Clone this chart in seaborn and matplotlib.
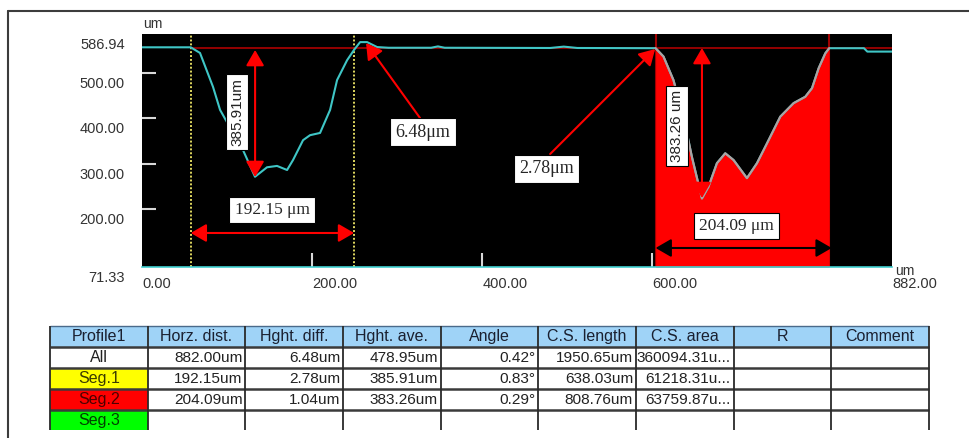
import matplotlib
matplotlib.use("Agg")
import matplotlib.pyplot as plt
import matplotlib.transforms as mtransforms
from matplotlib.lines import Line2D
from matplotlib.patches import Rectangle
import seaborn as sns
import numpy as np

# ---- profile data (um) ----
dist = np.array([0, 57.3, 68.2, 83.5, 91.8, 107.1, 118.8, 132.9, 147, 158.8, 170.6, 177.6,
                 189.4, 197.6, 209.4, 221.2, 229.4, 241.2, 249.45, 256.5, 264.7, 276.5,
                 290, 340, 348, 356, 480, 496, 512, 604.0, 613.3, 625, 636.8, 646.7, 658.5,
                 666.2, 676.1, 685.9, 695.7, 711.4, 723.2, 735, 750.6, 766.3, 780, 787.9,
                 795.7, 803.5, 808.1, 849, 853, 882])
height = np.array([557.5, 557.5, 545, 470, 419, 368, 330, 271, 292, 295, 286, 308,
                   352, 363, 368, 419, 485, 529, 552, 569, 569, 558,
                   556.5, 556.5, 559.5, 556.5, 556, 559, 556, 555.5, 537, 485, 404, 315, 223,
                   249, 301, 323, 308, 268, 301, 345, 404, 434, 448, 467,
                   511, 544, 555.5, 555.5, 548, 548])

x_max = 882.00
y_min, y_max = 71.33, 586.94
seg1 = (57.3, 249.45)
seg2 = (604.0, 808.1)
ref_level = 555.5

# ---- table data ----
columns = ["Profile1", "Horz. dist.", "Hght. diff.", "Hght. ave.", "Angle",
           "C.S. length", "C.S. area", "R", "Comment"]
row_names = ["All", "Seg.1", "Seg.2", "Seg.3"]
row_colors = ["white", "#ffff00", "#ff0000", "#00ff00"]
row_text_colors = ["#222222", "#3a3a00", "#4a0000", "#004000"]
horz_dist = ["882.00um", "192.15um", "204.09um", ""]
hght_diff = ["6.48um", "2.78um", "1.04um", ""]
hght_ave = ["478.95um", "385.91um", "383.26um", ""]
angle = ["0.42°", "0.83°", "0.29°", ""]
cs_length = ["1950.65um", "638.03um", "808.76um", ""]
cs_area = ["360094.31u...", "61218.31u...", "63759.87u...", ""]

sns.set_style("white")
plt.rcParams['font.family'] = ['Liberation Sans', 'DejaVu Sans']

W, H = 969, 438
fig = plt.figure(figsize=(W / 100, H / 100), dpi=100)


def fbox(l, t, r, b):
    return [l / W, 1 - b / H, (r - l) / W, (b - t) / H]


ax = fig.add_axes(fbox(142, 34, 892, 267))
ax.set_facecolor('black')
for s in ax.spines.values():
    s.set_visible(False)
ax.spines['bottom'].set_visible(True)
ax.spines['bottom'].set(color='#40d0d0', linestyle=(0, (1, 1)), linewidth=1.2)

# guide lines
ax.axvline(seg1[0], color='#e0d860', ls=(0, (1, 1)), lw=1.4, zorder=1)
ax.axvline(seg1[1], color='#e0d860', ls=(0, (1, 1)), lw=1.4, zorder=1)
ax.axvline(seg2[0], color='#a00000', lw=1.5, zorder=1)
ax.axvline(seg2[1], color='#a00000', lw=1.5, zorder=1)
ax.hlines(ref_level, seg1[0], x_max, color='#a00000', lw=1.3, zorder=1)

# segment 2 fill
mask = (dist >= seg2[0]) & (dist <= seg2[1])
ax.fill_between(dist[mask], y_min, height[mask], color='#ff0000', lw=0, zorder=2)

# profile
sns.lineplot(x=dist, y=height, ax=ax, color='#3fc6c6', lw=1.5, estimator=None, zorder=3)
sns.lineplot(x=dist[mask], y=height[mask], ax=ax, color='#b0a0a0', lw=1.5, estimator=None, zorder=3)

ax.set_xlim(0, x_max)
ax.set_ylim(y_min, y_max)
ax.set_xlabel('')
ax.set_ylabel('')

# ticks
ax.set_yticks([200, 300, 400, 500], ["200.00", "300.00", "400.00", "500.00"])
ax.set_yticks([y_min, y_max], [f"{y_min:.2f}", f"{y_max:.2f}"], minor=True)
ax.set_xticks([200, 400, 600], ["200.00", "400.00", "600.00"])
ax.set_xticks([0, x_max], ["0.00", f"{x_max:.2f}"], minor=True)
ax.tick_params(which='major', direction='in', length=10, width=1.5, color='#d8d8d8')
ax.tick_params(which='minor', length=0)
ax.tick_params(axis='y', which='both', pad=12.5, labelsize=10.5, labelcolor='#333333')
ax.tick_params(axis='x', which='both', pad=7, labelsize=10.5, labelcolor='#333333')
ax.tick_params(left=True, bottom=True, which='major')

for lab in ax.get_xticklabels(which='both'):
    lab.set_ha('left')
offset = mtransforms.ScaledTranslation(0, -0.095, fig.dpi_scale_trans)
for lab in ax.get_yticklabels(which='both'):
    lab.set_transform(lab.get_transform() + offset)

ax.annotate('um', xy=(0, 1), xycoords='axes fraction', xytext=(1, 4.5),
            textcoords='offset points', ha='left', va='baseline', fontsize=10, color='#333333')
ax.annotate('um', xy=(1, 0), xycoords='axes fraction', xytext=(2, -5.8),
            textcoords='offset points', ha='left', va='baseline', fontsize=10, color='#333333')

# arrows
arrow_red = dict(arrowstyle='<|-|>,head_length=0.95,head_width=0.55', color='#ff0000',
                 lw=1.5, shrinkA=0, shrinkB=0, mutation_scale=10)
arrow_one = dict(arrowstyle='-|>,head_length=0.95,head_width=0.55', color='#ff0000',
                 lw=1.5, shrinkA=0, shrinkB=0, mutation_scale=10)
arrow_blk = dict(arrowstyle='<|-|>,head_length=0.95,head_width=0.55', color='black',
                 lw=1.5, shrinkA=0, shrinkB=0, mutation_scale=10)
ax.annotate('', xy=(133, 551.5), xytext=(133, 270.5), arrowprops=arrow_red, zorder=4)
ax.annotate('', xy=(seg1[0], 146.6), xytext=(seg1[1], 146.6), arrowprops=arrow_red, zorder=4)
ax.annotate('', xy=(263.5, 566.9), xytext=(327, 400.9), arrowprops=arrow_one, zorder=4)
ax.annotate('', xy=(603.5, 553.7), xytext=(480, 321.4), arrowprops=arrow_one, zorder=4)
ax.annotate('', xy=(658.5, 555.9), xytext=(658.5, 224), arrowprops=arrow_red, zorder=4)
ax.annotate('', xy=(seg2[0], 113.4), xytext=(seg2[1] + 3, 113.4), arrowprops=arrow_blk, zorder=4)

# labels
box = dict(boxstyle='square,pad=0.3', fc='white', ec='black', lw=0.8)
box_v = dict(boxstyle='square,pad=0.25', fc='white', ec='black', lw=0.8)
serif = ['Liberation Serif', 'DejaVu Serif']
ax.text(112, 414.3, '385.91um', rotation=90, ha='center', va='center', fontsize=11,
        color='#222222', bbox=box_v, zorder=5)
ax.text(152.9, 197.5, '192.15 μm', ha='center', va='center', fontsize=12.5,
        family=serif, bbox=box, zorder=5)
ax.text(330.6, 370.0, '6.48μm', ha='center', va='center', fontsize=13,
        family=serif, bbox=box, zorder=5)
ax.text(475.9, 288.2, '2.78μm', ha='center', va='center', fontsize=13,
        family=serif, bbox=box, zorder=5)
ax.text(628.8, 383.4, '383.26 um', rotation=90, ha='center', va='center', fontsize=11,
        color='#222222', bbox=box_v, zorder=5)
ax.text(699.2, 162.1, '204.09 μm', ha='center', va='center', fontsize=12.5,
        family=serif, bbox=box, zorder=5)

# ---- table ----
axt = fig.add_axes(fbox(50, 326, 929, 430))
n_cols = len(columns)
n_rows = len(row_names)
bottom = n_rows + 0.95
axt.set_xlim(0, n_cols)
axt.set_ylim(bottom, 0)
axt.axis('off')

axt.add_patch(Rectangle((0, 0), n_cols, 1, fc='#9fd3f7', ec='none'))
for i, c in enumerate(row_colors):
    h = 1 if i < n_rows - 1 else 0.95
    axt.add_patch(Rectangle((0, i + 1), 1, h, fc=c, ec='none'))

axt.hlines(0, 0, n_cols, color='#4a6a8a', lw=1, clip_on=False)
axt.hlines(range(1, n_rows + 1), 0, n_cols, color='#3a3a3a', lw=1.8, clip_on=False)
axt.vlines(range(n_cols + 1), 0, bottom, color='#2a2a2a', lw=1.3, clip_on=False)

for j, name in enumerate(columns):
    axt.text(j + 0.5, 0.5, name, ha='center', va='center', fontsize=11.5, color='#1a2030')

table_cols = [horz_dist, hght_diff, hght_ave, angle, cs_length, cs_area]
for i, name in enumerate(row_names):
    axt.text(0.5, i + 1.5, name, ha='center', va='center', fontsize=11.5, color=row_text_colors[i])
    for j, col in enumerate(table_cols):
        axt.text(j + 2 - 0.03, i + 1.5, col[i], ha='right', va='center', fontsize=11.1, color='#222222')

# outer frame
fig.add_artist(Line2D([8 / W, 8 / W], [0, 1 - 11 / H], color='#3c3c3c', lw=1.5))
fig.add_artist(Line2D([8 / W, 1], [1 - 11 / H, 1 - 11 / H], color='#3c3c3c', lw=1.5))

fig.savefig('out.png', dpi=100, facecolor='white')
